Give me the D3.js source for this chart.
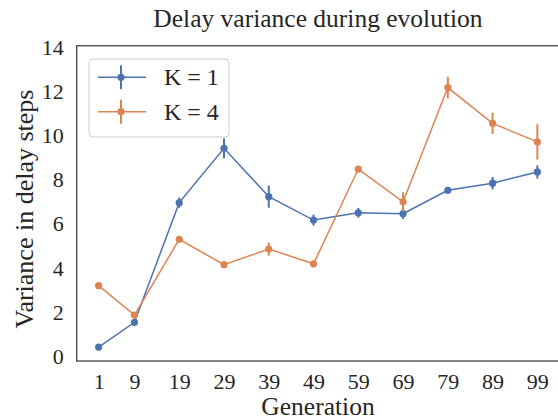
<!DOCTYPE html>
<html>
<head>
<meta charset="utf-8">
<script src="https://cdn.jsdelivr.net/npm/d3@7"></script>
<style>
  body { margin: 0; background: #fff; }
</style>
</head>
<body>
<script>
// generations sampled
const generations = [1, 9, 19, 29, 39, 49, 59, 69, 79, 89, 99];
// mean delay variance and error (half-length of bar)
const k1Values = [0.42, 1.54, 6.96, 9.42, 7.23, 6.17, 6.50, 6.46, 7.52, 7.84, 8.35];
const k1Errors = [0.05, 0.05, 0.23, 0.45, 0.50, 0.25, 0.22, 0.24, 0.15, 0.28, 0.30];
const k4Values = [3.20, 1.87, 5.30, 4.15, 4.86, 4.19, 8.48, 7.00, 12.17, 10.55, 9.71];
const k4Errors = [0.05, 0.08, 0.08, 0.05, 0.30, 0.05, 0.08, 0.43, 0.49, 0.48, 0.80];
const yTicks = [0, 2, 4, 6, 8, 10, 12, 14];
const seriesNames = ["K = 1", "K = 4"];
const seriesColors = ["#4c72b0", "#dd8452"];

const width = 558, height = 420;
const plot = { left: 76.7, right: 559.3, top: 45.8, bottom: 361 };
const textColor = "#262626";
const serif = "Liberation Serif, Times New Roman, serif";

const svg = d3.select("body").append("svg")
    .attr("width", width)
    .attr("height", height)
    .style("display", "block");

const x = d3.scaleLinear().domain([-3.9, 103.9]).range([plot.left, plot.right]);
const y = d3.scaleLinear().domain([-0.21, 14.06]).range([plot.bottom, plot.top]);

const series = [
    { name: seriesNames[0], color: seriesColors[0], values: k1Values, errors: k1Errors },
    { name: seriesNames[1], color: seriesColors[1], values: k4Values, errors: k4Errors }
];

// title
svg.append("text")
    .attr("x", (plot.left + plot.right) / 2)
    .attr("y", 27)
    .attr("text-anchor", "middle")
    .attr("font-family", serif)
    .attr("font-size", "25.5px")
    .attr("fill", textColor)
    .text("Delay variance during evolution");

// x axis ticks
const xAxis = svg.append("g")
    .attr("transform", "translate(0," + plot.bottom + ")")
    .call(d3.axisBottom(x).tickValues(generations).tickSize(0).tickPadding(12));
xAxis.select(".domain").remove();
xAxis.selectAll("text")
    .attr("font-size", "22px")
    .attr("font-family", serif)
    .attr("fill", textColor);

// y axis ticks
const yAxis = svg.append("g")
    .attr("transform", "translate(" + plot.left + ",0)")
    .call(d3.axisLeft(y).tickValues(yTicks).tickSize(0).tickPadding(13));
yAxis.select(".domain").remove();
yAxis.selectAll("text")
    .attr("font-size", "22px")
    .attr("font-family", serif)
    .attr("fill", textColor);

// axis labels
svg.append("text")
    .attr("x", (plot.left + plot.right) / 2)
    .attr("y", 415)
    .attr("text-anchor", "middle")
    .attr("font-family", serif)
    .attr("font-size", "25.5px")
    .attr("fill", textColor)
    .text("Generation");

svg.append("text")
    .attr("transform", "translate(33,209)rotate(-90)")
    .attr("text-anchor", "middle")
    .attr("font-family", serif)
    .attr("font-size", "26px")
    .attr("fill", textColor)
    .text("Variance in delay steps");

// lines, error bars, markers
const line = d3.line()
    .x((d, i) => x(generations[i]))
    .y(d => y(d));

series.forEach(s => {
    const g = svg.append("g");

    g.append("path")
        .datum(s.values)
        .attr("fill", "none")
        .attr("stroke", s.color)
        .attr("stroke-width", 1.5)
        .attr("d", line);

    g.selectAll("line.err")
        .data(s.values)
        .enter().append("line")
        .attr("class", "err")
        .attr("x1", (d, i) => x(generations[i]))
        .attr("x2", (d, i) => x(generations[i]))
        .attr("y1", (d, i) => y(d - s.errors[i]))
        .attr("y2", (d, i) => y(d + s.errors[i]))
        .attr("stroke", s.color)
        .attr("stroke-width", 2);

    g.selectAll("circle")
        .data(s.values)
        .enter().append("circle")
        .attr("cx", (d, i) => x(generations[i]))
        .attr("cy", d => y(d))
        .attr("r", 3.6)
        .attr("fill", s.color);
});

// spines
svg.append("rect")
    .attr("x", plot.left)
    .attr("y", plot.top)
    .attr("width", plot.right - plot.left)
    .attr("height", plot.bottom - plot.top)
    .attr("fill", "none")
    .attr("stroke", "#3a3a3a")
    .attr("stroke-width", 1.25);

// legend
const legend = svg.append("g");
legend.append("rect")
    .attr("x", 89)
    .attr("y", 59)
    .attr("width", 140)
    .attr("height", 78)
    .attr("rx", 4)
    .attr("fill", "#fff")
    .attr("fill-opacity", 0.8)
    .attr("stroke", "#cccccc")
    .attr("stroke-width", 1);

const entries = legend.selectAll("g.entry")
    .data(series)
    .enter().append("g")
    .attr("class", "entry")
    .attr("transform", (d, i) => "translate(0," + (77.3 + i * 34.4) + ")");

entries.append("line")
    .attr("x1", 98).attr("x2", 146)
    .attr("stroke", d => d.color)
    .attr("stroke-width", 1.5);
entries.append("line")
    .attr("x1", 121).attr("x2", 121)
    .attr("y1", -12).attr("y2", 12)
    .attr("stroke", d => d.color)
    .attr("stroke-width", 2);
entries.append("circle")
    .attr("cx", 121)
    .attr("r", 3.6)
    .attr("fill", d => d.color);
entries.append("text")
    .attr("x", 164)
    .attr("dy", "0.33em")
    .attr("font-family", serif)
    .attr("font-size", "24px")
    .attr("fill", textColor)
    .text(d => d.name);
</script>
</body>
</html>
